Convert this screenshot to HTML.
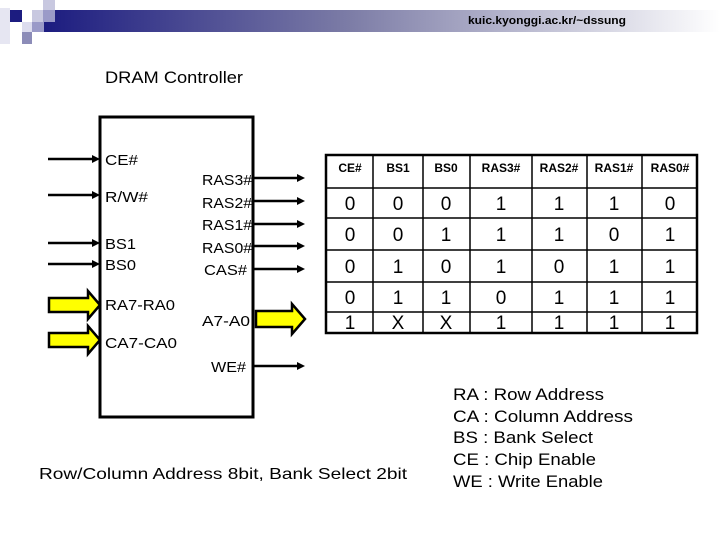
<!DOCTYPE html>
<html><head><meta charset="utf-8"><style>
html,body{margin:0;padding:0;background:#fff;}
svg{display:block;font-family:"Liberation Sans",Arial,sans-serif;}
</style></head><body>
<svg width="720" height="540" viewBox="0 0 720 540" xmlns="http://www.w3.org/2000/svg">
<defs>
<linearGradient id="g" x1="0" x2="1" y1="0" y2="0">
<stop offset="0" stop-color="#1c1c80"/>
<stop offset="0.45" stop-color="#7c7ca6"/>
<stop offset="1" stop-color="#ffffff"/>
</linearGradient>
</defs>
<rect x="0" y="0" width="720" height="540" fill="#fff"/>
<rect x="0" y="8" width="10" height="36" fill="#e6e6f2"/>
<rect x="44" y="10" width="676" height="22" fill="url(#g)"/>
<rect x="10" y="10" width="12" height="12" fill="#1c1c80"/>
<rect x="32" y="10" width="12" height="12" fill="#c8c8e0"/>
<rect x="43" y="0" width="12" height="10" fill="#c8c8e0"/>
<rect x="43" y="10" width="12" height="12" fill="#9a9ac8"/>
<rect x="22" y="22" width="10" height="10" fill="#dcdcee"/>
<rect x="32" y="22" width="12" height="10" fill="#9a9ac8"/>
<rect x="22" y="32" width="10" height="12" fill="#8c8cb8"/>
<text x="468" y="24" font-size="11" font-weight="bold" textLength="158" lengthAdjust="spacingAndGlyphs">kuic.kyonggi.ac.kr/~dssung</text>

<text x="105" y="83" font-size="17" textLength="138" lengthAdjust="spacingAndGlyphs">DRAM Controller</text>

<rect x="100" y="117" width="153" height="300" fill="none" stroke="#000" stroke-width="3"/>

<g stroke="#000" stroke-width="2.5">
<line x1="48" y1="159" x2="92" y2="159"/>
<line x1="48" y1="195" x2="92" y2="195"/>
<line x1="48" y1="243" x2="92" y2="243"/>
<line x1="48" y1="264" x2="92" y2="264"/>
<line x1="254" y1="178" x2="298" y2="178"/>
<line x1="254" y1="201" x2="298" y2="201"/>
<line x1="254" y1="224" x2="298" y2="224"/>
<line x1="254" y1="246" x2="298" y2="246"/>
<line x1="254" y1="269" x2="298" y2="269"/>
<line x1="254" y1="366" x2="298" y2="366"/>
</g>
<g fill="#000">
<polygon points="92,155 100,159 92,163"/>
<polygon points="92,191 100,195 92,199"/>
<polygon points="92,239 100,243 92,247"/>
<polygon points="92,260 100,264 92,268"/>
<polygon points="297,174 305,178 297,182"/>
<polygon points="297,197 305,201 297,205"/>
<polygon points="297,220 305,224 297,228"/>
<polygon points="297,242 305,246 297,250"/>
<polygon points="297,265 305,269 297,273"/>
<polygon points="297,362 305,366 297,370"/>
</g>
<g fill="#ffff00" stroke="#000" stroke-width="2.5" stroke-linejoin="miter">
<polygon points="49,298 88,298 88,291 100,305 88,319 88,312 49,312"/>
<polygon points="49,333 88,333 88,326 100,340 88,354 88,347 49,347"/>
<polygon points="256,311 292,311 292,304 305,319 292,334 292,327 256,327"/>
</g>

<g font-size="15">
<text x="105" y="165" textLength="33" lengthAdjust="spacingAndGlyphs">CE#</text>
<text x="105" y="202" textLength="43" lengthAdjust="spacingAndGlyphs">R/W#</text>
<text x="105" y="249" textLength="31" lengthAdjust="spacingAndGlyphs">BS1</text>
<text x="105" y="270" textLength="31" lengthAdjust="spacingAndGlyphs">BS0</text>
<text x="105" y="310" textLength="70" lengthAdjust="spacingAndGlyphs">RA7-RA0</text>
<text x="105" y="348" textLength="72" lengthAdjust="spacingAndGlyphs">CA7-CA0</text>
<text x="202" y="185" textLength="50" lengthAdjust="spacingAndGlyphs">RAS3#</text>
<text x="202" y="208" textLength="50" lengthAdjust="spacingAndGlyphs">RAS2#</text>
<text x="202" y="230" textLength="50" lengthAdjust="spacingAndGlyphs">RAS1#</text>
<text x="202" y="253" textLength="50" lengthAdjust="spacingAndGlyphs">RAS0#</text>
<text x="204" y="275" textLength="43" lengthAdjust="spacingAndGlyphs">CAS#</text>
<text x="202" y="326" textLength="48" lengthAdjust="spacingAndGlyphs">A7-A0</text>
<text x="211" y="372" textLength="35" lengthAdjust="spacingAndGlyphs">WE#</text>
</g>

<rect x="326" y="155" width="371" height="178" fill="none" stroke="#000" stroke-width="2.5"/>
<g stroke="#000" stroke-width="1.5">
<line x1="326" y1="188" x2="697" y2="188"/>
<line x1="326" y1="218" x2="697" y2="218"/>
<line x1="326" y1="250" x2="697" y2="250"/>
<line x1="326" y1="282" x2="697" y2="282"/>
<line x1="326" y1="312" x2="697" y2="312"/>
<line x1="373" y1="155" x2="373" y2="333"/>
<line x1="423" y1="155" x2="423" y2="333"/>
<line x1="470" y1="155" x2="470" y2="333"/>
<line x1="532" y1="155" x2="532" y2="333"/>
<line x1="587" y1="155" x2="587" y2="333"/>
<line x1="642" y1="155" x2="642" y2="333"/>
</g>
<g text-anchor="middle" font-size="12" font-weight="bold">
<text x="350" y="172">CE#</text><text x="398" y="172">BS1</text><text x="446" y="172">BS0</text>
<text x="501" y="172">RAS3#</text><text x="559" y="172">RAS2#</text><text x="614" y="172">RAS1#</text><text x="670" y="172">RAS0#</text>
</g>
<g text-anchor="middle" font-size="19">
<text x="350" y="210">0</text><text x="398" y="210">0</text><text x="446" y="210">0</text><text x="501" y="210">1</text><text x="559" y="210">1</text><text x="614" y="210">1</text><text x="670" y="210">0</text>
<text x="350" y="241">0</text><text x="398" y="241">0</text><text x="446" y="241">1</text><text x="501" y="241">1</text><text x="559" y="241">1</text><text x="614" y="241">0</text><text x="670" y="241">1</text>
<text x="350" y="273">0</text><text x="398" y="273">1</text><text x="446" y="273">0</text><text x="501" y="273">1</text><text x="559" y="273">0</text><text x="614" y="273">1</text><text x="670" y="273">1</text>
<text x="350" y="304">0</text><text x="398" y="304">1</text><text x="446" y="304">1</text><text x="501" y="304">0</text><text x="559" y="304">1</text><text x="614" y="304">1</text><text x="670" y="304">1</text>
<text x="350" y="329">1</text><text x="398" y="329">X</text><text x="446" y="329">X</text><text x="501" y="329">1</text><text x="559" y="329">1</text><text x="614" y="329">1</text><text x="670" y="329">1</text>
</g>

<text x="39" y="479" font-size="16" textLength="368" lengthAdjust="spacingAndGlyphs">Row/Column Address 8bit, Bank Select 2bit</text>

<g font-size="17">
<text x="453" y="400" textLength="151" lengthAdjust="spacingAndGlyphs">RA : Row Address</text>
<text x="453" y="422" textLength="180" lengthAdjust="spacingAndGlyphs">CA : Column Address</text>
<text x="453" y="443" textLength="140" lengthAdjust="spacingAndGlyphs">BS : Bank Select</text>
<text x="453" y="465" textLength="143" lengthAdjust="spacingAndGlyphs">CE : Chip Enable</text>
<text x="453" y="487" textLength="150" lengthAdjust="spacingAndGlyphs">WE : Write Enable</text>
</g>
</svg>
</body></html>
